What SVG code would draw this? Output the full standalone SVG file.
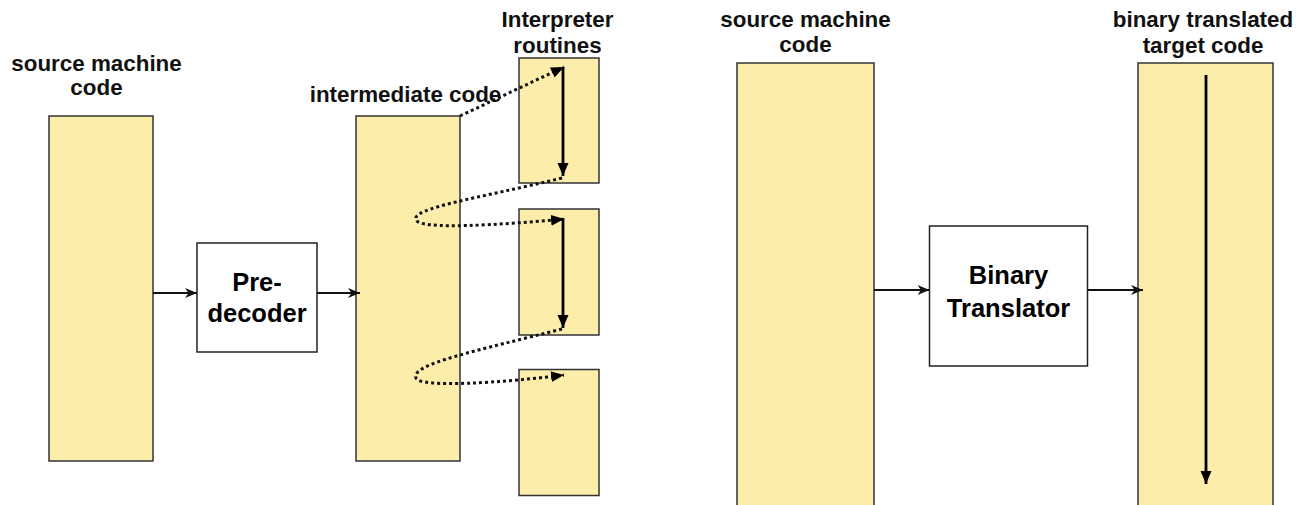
<svg xmlns="http://www.w3.org/2000/svg" width="1296" height="505" viewBox="0 0 1296 505">
<style>
.code{fill:#FDEDAB;stroke:#333;stroke-width:1.5}
.proc{fill:#fff;stroke:#222;stroke-width:1.5}
.lbl{font-family:"Liberation Sans",Arial,sans-serif;font-weight:bold;font-size:22.4px;fill:#111;text-anchor:middle}
.big{font-family:"Liberation Sans",Arial,sans-serif;font-weight:bold;font-size:25.5px;fill:#000;text-anchor:middle}
.flow{fill:none;stroke:#111;stroke-width:2.2;marker-end:url(#open)}
.solid{fill:none;stroke:#000;stroke-width:2.8;marker-end:url(#tri)}
.dot{fill:none;stroke:#111;stroke-width:3;stroke-dasharray:3 3;marker-end:url(#tri)}
</style>
<defs>
<marker id="open" markerUnits="userSpaceOnUse" markerWidth="13" markerHeight="11" refX="12" refY="5" orient="auto">
<path d="M0,0 L12,5 L0,10 L3.5,5 z" fill="#111"/>
</marker>
<marker id="tri" markerUnits="userSpaceOnUse" markerWidth="14" markerHeight="12" refX="13" refY="5.5" orient="auto">
<path d="M0,0 L13,5.5 L0,11 z" fill="#000"/>
</marker>
</defs>

<g id="src-left">
<rect class="code" x="49" y="116" width="104" height="345"/>
<text class="lbl" x="96.5" y="71">source machine</text>
<text class="lbl" x="96.5" y="95">code</text>
</g>
<g id="predecoder">
<rect class="proc" x="197" y="243" width="120" height="109"/>
<text class="big" x="257" y="291">Pre-</text>
<text class="big" x="257" y="322">decoder</text>
</g>
<g id="intermediate">
<rect class="code" x="356" y="116" width="104" height="345"/>
<text class="lbl" x="405.5" y="102">intermediate code</text>
</g>
<g id="routines">
<rect class="code" x="519" y="58" width="80" height="125"/>
<rect class="code" x="519" y="209" width="80" height="126"/>
<rect class="code" x="519" y="369.5" width="80" height="126"/>
<text class="lbl" x="557.5" y="27">Interpreter</text>
<text class="lbl" x="557.5" y="52.5">routines</text>
</g>
<g id="src-right">
<rect class="code" x="737" y="63" width="137" height="446"/>
<text class="lbl" x="805.5" y="27">source machine</text>
<text class="lbl" x="805.5" y="52">code</text>
</g>
<g id="translator">
<rect class="proc" x="929.5" y="226" width="158" height="140"/>
<text class="big" x="1008.5" y="284">Binary</text>
<text class="big" x="1008.5" y="317">Translator</text>
</g>
<g id="target">
<rect class="code" x="1138" y="63" width="135" height="446"/>
<text class="lbl" x="1203" y="27">binary translated</text>
<text class="lbl" x="1203" y="52.5">target code</text>
</g>

<g id="connectors">
<line class="flow" x1="153" y1="293" x2="197" y2="293"/>
<line class="flow" x1="317" y1="293" x2="360" y2="293"/>
<line class="flow" x1="874" y1="290" x2="929.5" y2="290"/>
<line class="flow" x1="1087.5" y1="290" x2="1143" y2="290"/>
<line class="solid" x1="563" y1="67" x2="563" y2="176"/>
<line class="solid" x1="563" y1="218" x2="563" y2="328"/>
<line class="solid" x1="1206" y1="75" x2="1206" y2="484"/>
<path class="dot" d="M460,116 L564,67"/>
<path class="dot" d="M562,178 C480,198 410,208 416,220 C420,230 500,225 564,219"/>
<path class="dot" d="M562,329 C480,350 410,364 416,378 C420,388 500,383 564,375"/>
</g>
</svg>
